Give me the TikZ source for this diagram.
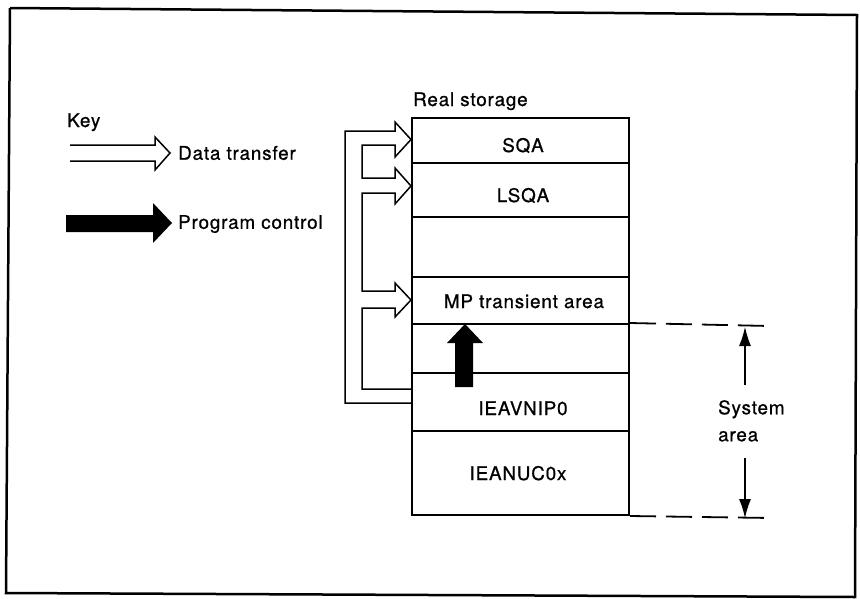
\documentclass[tikz,border=0pt]{standalone}
\usepackage{fontspec}
\setmainfont{TeX Gyre Heros}[LetterSpace=4.5, FakeBold=0.8]
\usetikzlibrary{arrows.meta}
\begin{document}
\begin{tikzpicture}[x=1pt,y=-1pt,
  font=\fontsize{18.8}{27}\selectfont,
  sect/.style={draw, line width=2pt, minimum width=217pt, inner sep=0pt},
  lbl/.style={inner sep=0pt, anchor=base},
  hollow/.style={draw, line width=1.5pt, line join=miter},
  dimline/.style={line width=1.8pt, dash pattern=on 26pt off 10pt},
  dimarrow/.style={line width=1.2pt, -{Latex[length=19pt,width=12pt]}}]
\useasboundingbox (0,0) rectangle (860,598);
% frame
\draw[line width=2.5pt, line join=miter] (10,8) -- (857,15) -- (855,598);
\draw[line width=2.5pt] (10,8) -- (6,593) -- (855,597);
% storage sections
\node[sect, minimum height=45pt] (sqa)  at (520.5,140.5) {};
\node[sect, minimum height=54pt] (lsqa) at (520.5,190) {};
\node[sect, minimum height=60pt] (free) at (520.5,247) {};
\node[sect, minimum height=47pt] (mp)   at (520.5,300.5) {};
\node[sect, minimum height=49pt] (gap)  at (520.5,348.5) {};
\node[sect, minimum height=58pt] (nip)  at (520.5,402) {};
\node[sect, minimum height=84pt] (nuc)  at (520.5,473) {};
% labels
\node[inner sep=0pt, anchor=base west] (rs) at (413,106) {Real storage};
\node[lbl] (tsqa) at (523,152) {SQA};
\node[lbl] (tlsqa) at (523,202) {LSQA};
\node[lbl] (tmp) at (524,308) {MP transient area};
\node[lbl] (tnip) at (523,415) {IEAVNIP0};
\node[lbl] (tnuc) at (518,480) {IEANUC0x};
% data transfer arrows
\draw[hollow] (nip.west |- 0,403) -- (345,403) -- (345,131) -- (395,131) -- (395,122)
  -- (sqa.west |- 0,139.5) -- (395,157) -- (395,145) -- (362,145) -- (362,178)
  -- (395,178) -- (395,168) -- (lsqa.west |- 0,186) -- (395,204) -- (395,193)
  -- (362,193) -- (362,291) -- (395,291) -- (395,283) -- (mp.west |- 0,300)
  -- (395,317) -- (395,308) -- (362,308) -- (362,389) -- (nip.west |- 0,389);
% program control arrow
\fill (455,387) -- (455,343) -- (447,343) -- (465,324) -- (483,343) -- (473,343) -- (473,387) -- cycle;
% key
\node[inner sep=0pt, anchor=base west] (key) at (67,127) {Key};
\draw[hollow] (70,145) -- (155,145) -- (155,137) -- (170,153) -- (155,170) -- (155,161) -- (70,161);
\node[inner sep=0pt, anchor=west] (kdt) at (178,153) {Data transfer};
\fill (66,215) -- (153,215) -- (153,203) -- (172,223) -- (153,243) -- (153,232) -- (66,232) -- cycle;
\node[inner sep=0pt, anchor=west] (kpc) at (178,224) {Program control};
% system area
\coordinate (dtop) at (770,326);
\coordinate (dbot) at (772,518);
\draw[dimline] (gap.north east) -- (dtop);
\draw[dimline] (nuc.south east) -- (dbot);
\node[inner sep=0pt, align=left, anchor=north west] (sys) at (718,400) {System\\area};
\draw[dimarrow] (745,385) -- (745,327);
\draw[dimarrow] (745,458) -- (745,518);
\end{tikzpicture}
\end{document}
